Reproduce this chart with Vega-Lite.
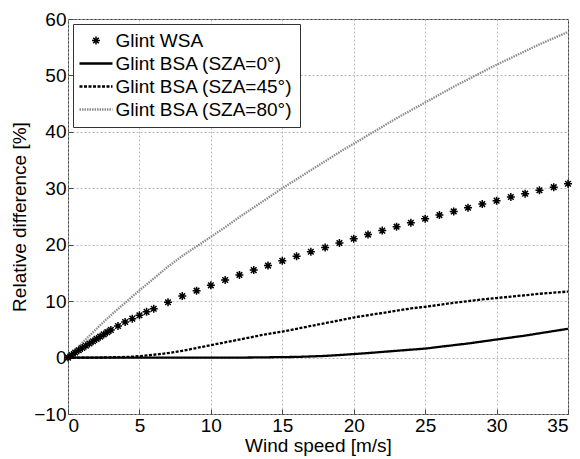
{
  "$schema": "https://vega.github.io/schema/vega-lite/v6.json",
  "width": 500,
  "height": 395,
  "autosize": "none",
  "padding": {"left": 68, "top": 19, "right": 12, "bottom": 45},
  "background": "white",
  "config": {
    "font": "Liberation Sans",
    "view": {"stroke": "#444", "strokeWidth": 1},
    "axis": {
      "labelFontSize": 19,
      "titleFontSize": 19,
      "titleFontWeight": "normal",
      "labelColor": "black",
      "titleColor": "black",
      "grid": true,
      "gridDash": [2, 2],
      "gridColor": "#a8a8a8",
      "gridWidth": 0.8,
      "domain": false,
      "tickSize": -5,
      "tickColor": "#444",
      "labelPadding": 7
    },
    "legend": {
      "orient": "top-left",
      "offset": 5,
      "labelFontSize": 19,
      "labelColor": "black",
      "strokeColor": "#333",
      "fillColor": "white",
      "padding": 7,
      "rowPadding": 3,
      "symbolOffset": 6.5,
      "labelOffset": 10,
      "labelLimit": 400,
      "symbolStrokeWidth": 2.3
    }
  },
  "datasets": {
    "stars": [
      {"x": 0, "y": 0}, {"x": 0.25, "y": 0.45}, {"x": 0.5, "y": 0.9}, {"x": 0.75, "y": 1.3},
      {"x": 1, "y": 1.7}, {"x": 1.25, "y": 2.1}, {"x": 1.5, "y": 2.5}, {"x": 1.75, "y": 2.9},
      {"x": 2, "y": 3.3}, {"x": 2.25, "y": 3.7}, {"x": 2.5, "y": 4.1}, {"x": 2.75, "y": 4.5},
      {"x": 3, "y": 4.9}, {"x": 3.5, "y": 5.6}, {"x": 4, "y": 6.3}, {"x": 4.5, "y": 6.9},
      {"x": 5, "y": 7.5}, {"x": 5.5, "y": 8.1}, {"x": 6, "y": 8.65}, {"x": 7, "y": 9.8},
      {"x": 8, "y": 10.9}, {"x": 9, "y": 11.85}, {"x": 10, "y": 12.8}, {"x": 11, "y": 13.75},
      {"x": 12, "y": 14.65}, {"x": 13, "y": 15.5}, {"x": 14, "y": 16.3}, {"x": 15, "y": 17.15},
      {"x": 16, "y": 17.95}, {"x": 17, "y": 18.75}, {"x": 18, "y": 19.5}, {"x": 19, "y": 20.3},
      {"x": 20, "y": 21.05}, {"x": 21, "y": 21.8}, {"x": 22, "y": 22.5}, {"x": 23, "y": 23.2},
      {"x": 24, "y": 23.9}, {"x": 25, "y": 24.6}, {"x": 26, "y": 25.25}, {"x": 27, "y": 25.9},
      {"x": 28, "y": 26.55}, {"x": 29, "y": 27.2}, {"x": 30, "y": 27.8}, {"x": 31, "y": 28.45},
      {"x": 32, "y": 29.05}, {"x": 33, "y": 29.65}, {"x": 34, "y": 30.2}, {"x": 35, "y": 30.8}
    ],
    "lines": [
      {"s": "Glint BSA (SZA=0°)", "x": 0, "y": 0}, {"s": "Glint BSA (SZA=0°)", "x": 1, "y": 0},
      {"s": "Glint BSA (SZA=0°)", "x": 2, "y": 0}, {"s": "Glint BSA (SZA=0°)", "x": 3, "y": 0},
      {"s": "Glint BSA (SZA=0°)", "x": 4, "y": 0}, {"s": "Glint BSA (SZA=0°)", "x": 5, "y": 0},
      {"s": "Glint BSA (SZA=0°)", "x": 6, "y": 0}, {"s": "Glint BSA (SZA=0°)", "x": 7, "y": 0},
      {"s": "Glint BSA (SZA=0°)", "x": 8, "y": 0}, {"s": "Glint BSA (SZA=0°)", "x": 9, "y": 0},
      {"s": "Glint BSA (SZA=0°)", "x": 10, "y": 0}, {"s": "Glint BSA (SZA=0°)", "x": 11, "y": 0},
      {"s": "Glint BSA (SZA=0°)", "x": 12, "y": 0}, {"s": "Glint BSA (SZA=0°)", "x": 13, "y": 0.02},
      {"s": "Glint BSA (SZA=0°)", "x": 14, "y": 0.05}, {"s": "Glint BSA (SZA=0°)", "x": 15, "y": 0.08},
      {"s": "Glint BSA (SZA=0°)", "x": 16, "y": 0.12}, {"s": "Glint BSA (SZA=0°)", "x": 17, "y": 0.2},
      {"s": "Glint BSA (SZA=0°)", "x": 18, "y": 0.3}, {"s": "Glint BSA (SZA=0°)", "x": 19, "y": 0.45},
      {"s": "Glint BSA (SZA=0°)", "x": 20, "y": 0.62}, {"s": "Glint BSA (SZA=0°)", "x": 21, "y": 0.8},
      {"s": "Glint BSA (SZA=0°)", "x": 22, "y": 1.0}, {"s": "Glint BSA (SZA=0°)", "x": 23, "y": 1.2},
      {"s": "Glint BSA (SZA=0°)", "x": 24, "y": 1.4}, {"s": "Glint BSA (SZA=0°)", "x": 25, "y": 1.6},
      {"s": "Glint BSA (SZA=0°)", "x": 26, "y": 1.9}, {"s": "Glint BSA (SZA=0°)", "x": 27, "y": 2.2},
      {"s": "Glint BSA (SZA=0°)", "x": 28, "y": 2.5}, {"s": "Glint BSA (SZA=0°)", "x": 29, "y": 2.85},
      {"s": "Glint BSA (SZA=0°)", "x": 30, "y": 3.2}, {"s": "Glint BSA (SZA=0°)", "x": 31, "y": 3.55},
      {"s": "Glint BSA (SZA=0°)", "x": 32, "y": 3.9}, {"s": "Glint BSA (SZA=0°)", "x": 33, "y": 4.3},
      {"s": "Glint BSA (SZA=0°)", "x": 34, "y": 4.7}, {"s": "Glint BSA (SZA=0°)", "x": 35, "y": 5.1},
      {"s": "Glint BSA (SZA=45°)", "x": 0, "y": 0}, {"s": "Glint BSA (SZA=45°)", "x": 1, "y": 0},
      {"s": "Glint BSA (SZA=45°)", "x": 2, "y": 0}, {"s": "Glint BSA (SZA=45°)", "x": 3, "y": 0.05},
      {"s": "Glint BSA (SZA=45°)", "x": 4, "y": 0.1}, {"s": "Glint BSA (SZA=45°)", "x": 5, "y": 0.25},
      {"s": "Glint BSA (SZA=45°)", "x": 6, "y": 0.5}, {"s": "Glint BSA (SZA=45°)", "x": 7, "y": 0.8},
      {"s": "Glint BSA (SZA=45°)", "x": 8, "y": 1.2}, {"s": "Glint BSA (SZA=45°)", "x": 9, "y": 1.7},
      {"s": "Glint BSA (SZA=45°)", "x": 10, "y": 2.2}, {"s": "Glint BSA (SZA=45°)", "x": 11, "y": 2.7},
      {"s": "Glint BSA (SZA=45°)", "x": 12, "y": 3.2}, {"s": "Glint BSA (SZA=45°)", "x": 13, "y": 3.7},
      {"s": "Glint BSA (SZA=45°)", "x": 14, "y": 4.2}, {"s": "Glint BSA (SZA=45°)", "x": 15, "y": 4.6},
      {"s": "Glint BSA (SZA=45°)", "x": 16, "y": 5.1}, {"s": "Glint BSA (SZA=45°)", "x": 17, "y": 5.6},
      {"s": "Glint BSA (SZA=45°)", "x": 18, "y": 6.1}, {"s": "Glint BSA (SZA=45°)", "x": 19, "y": 6.6},
      {"s": "Glint BSA (SZA=45°)", "x": 20, "y": 7.1}, {"s": "Glint BSA (SZA=45°)", "x": 21, "y": 7.5},
      {"s": "Glint BSA (SZA=45°)", "x": 22, "y": 7.9}, {"s": "Glint BSA (SZA=45°)", "x": 23, "y": 8.3},
      {"s": "Glint BSA (SZA=45°)", "x": 24, "y": 8.7}, {"s": "Glint BSA (SZA=45°)", "x": 25, "y": 9.0},
      {"s": "Glint BSA (SZA=45°)", "x": 26, "y": 9.35}, {"s": "Glint BSA (SZA=45°)", "x": 27, "y": 9.7},
      {"s": "Glint BSA (SZA=45°)", "x": 28, "y": 10.0}, {"s": "Glint BSA (SZA=45°)", "x": 29, "y": 10.3},
      {"s": "Glint BSA (SZA=45°)", "x": 30, "y": 10.55}, {"s": "Glint BSA (SZA=45°)", "x": 31, "y": 10.8},
      {"s": "Glint BSA (SZA=45°)", "x": 32, "y": 11.05}, {"s": "Glint BSA (SZA=45°)", "x": 33, "y": 11.3},
      {"s": "Glint BSA (SZA=45°)", "x": 34, "y": 11.5}, {"s": "Glint BSA (SZA=45°)", "x": 35, "y": 11.7},
      {"s": "Glint BSA (SZA=80°)", "x": 0, "y": 0}, {"s": "Glint BSA (SZA=80°)", "x": 1, "y": 2.6},
      {"s": "Glint BSA (SZA=80°)", "x": 2, "y": 5.1}, {"s": "Glint BSA (SZA=80°)", "x": 3, "y": 7.5},
      {"s": "Glint BSA (SZA=80°)", "x": 4, "y": 9.7}, {"s": "Glint BSA (SZA=80°)", "x": 5, "y": 11.9},
      {"s": "Glint BSA (SZA=80°)", "x": 6, "y": 14.0}, {"s": "Glint BSA (SZA=80°)", "x": 7, "y": 16.1},
      {"s": "Glint BSA (SZA=80°)", "x": 8, "y": 18.0}, {"s": "Glint BSA (SZA=80°)", "x": 9, "y": 19.7},
      {"s": "Glint BSA (SZA=80°)", "x": 10, "y": 21.4}, {"s": "Glint BSA (SZA=80°)", "x": 11, "y": 23.1},
      {"s": "Glint BSA (SZA=80°)", "x": 12, "y": 24.9}, {"s": "Glint BSA (SZA=80°)", "x": 13, "y": 26.6},
      {"s": "Glint BSA (SZA=80°)", "x": 14, "y": 28.3}, {"s": "Glint BSA (SZA=80°)", "x": 15, "y": 30.0},
      {"s": "Glint BSA (SZA=80°)", "x": 16, "y": 31.6}, {"s": "Glint BSA (SZA=80°)", "x": 17, "y": 33.2},
      {"s": "Glint BSA (SZA=80°)", "x": 18, "y": 34.8}, {"s": "Glint BSA (SZA=80°)", "x": 19, "y": 36.4},
      {"s": "Glint BSA (SZA=80°)", "x": 20, "y": 37.9}, {"s": "Glint BSA (SZA=80°)", "x": 21, "y": 39.4},
      {"s": "Glint BSA (SZA=80°)", "x": 22, "y": 40.9}, {"s": "Glint BSA (SZA=80°)", "x": 23, "y": 42.4},
      {"s": "Glint BSA (SZA=80°)", "x": 24, "y": 43.8}, {"s": "Glint BSA (SZA=80°)", "x": 25, "y": 45.2},
      {"s": "Glint BSA (SZA=80°)", "x": 26, "y": 46.6}, {"s": "Glint BSA (SZA=80°)", "x": 27, "y": 48.0},
      {"s": "Glint BSA (SZA=80°)", "x": 28, "y": 49.3}, {"s": "Glint BSA (SZA=80°)", "x": 29, "y": 50.6},
      {"s": "Glint BSA (SZA=80°)", "x": 30, "y": 51.9}, {"s": "Glint BSA (SZA=80°)", "x": 31, "y": 53.1},
      {"s": "Glint BSA (SZA=80°)", "x": 32, "y": 54.3}, {"s": "Glint BSA (SZA=80°)", "x": 33, "y": 55.5},
      {"s": "Glint BSA (SZA=80°)", "x": 34, "y": 56.6}, {"s": "Glint BSA (SZA=80°)", "x": 35, "y": 57.7}
    ]
  },
  "layer": [
    {
      "data": {"name": "lines"},
      "mark": {"type": "line", "interpolate": "monotone", "strokeWidth": 2.3},
      "encoding": {
        "x": {"field": "x", "type": "quantitative", "scale": {"domain": [0, 35], "nice": false},
              "axis": {"title": "Wind speed [m/s]", "values": [0, 5, 10, 15, 20, 25, 30, 35], "titlePadding": 1}},
        "y": {"field": "y", "type": "quantitative", "scale": {"domain": [-10, 60], "nice": false},
              "axis": {"title": "Relative difference [%]", "values": [-10, 0, 10, 20, 30, 40, 50, 60], "titlePadding": 4}},
        "color": {"field": "s", "type": "nominal",
                  "scale": {"domain": ["Glint WSA", "Glint BSA (SZA=0°)", "Glint BSA (SZA=45°)", "Glint BSA (SZA=80°)"],
                            "range": ["black", "black", "black", "#8c8c8c"]},
                  "legend": {"title": null,
                    "encode": {"symbols": {"update": {
                      "shape": {"signal": "datum.value === 'Glint WSA' ? 'M-1,0L1,0M0,-1L0,1M-0.7,-0.7L0.7,0.7M-0.7,0.7L0.7,-0.7' : 'stroke'"},
                      "size": {"signal": "datum.value === 'Glint WSA' ? 64 : 1089"},
                      "strokeWidth": {"signal": "datum.value === 'Glint WSA' ? 1.5 : 2.3"},
                      "fill": {"value": "transparent"}
                    }}}}},
        "strokeDash": {"field": "s", "type": "nominal",
                  "scale": {"domain": ["Glint WSA", "Glint BSA (SZA=0°)", "Glint BSA (SZA=45°)", "Glint BSA (SZA=80°)"],
                            "range": [[1, 0], [1, 0], [3, 1.5], [1.5, 1]]},
                  "legend": {"title": null}}
      }
    },
    {
      "data": {"name": "stars"},
      "transform": [{"calculate": "'Glint WSA'", "as": "s"}],
      "mark": {"type": "point", "filled": false, "strokeWidth": 1.5, "opacity": 1, "size": 64,
               "shape": "M-1,0L1,0M0,-1L0,1M-0.7,-0.7L0.7,0.7M-0.7,0.7L0.7,-0.7"},
      "encoding": {
        "x": {"field": "x", "type": "quantitative"},
        "y": {"field": "y", "type": "quantitative"},
        "color": {"field": "s", "type": "nominal", "legend": {"title": null}}
      }
    }
  ]
}
